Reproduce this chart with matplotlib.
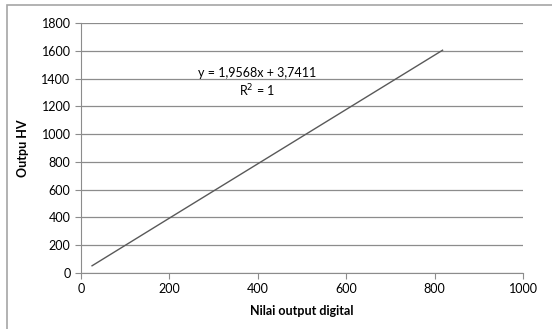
import matplotlib.pyplot as plt
from matplotlib.patches import Rectangle

plt.rcParams['font.family'] = ['Lato', 'DejaVu Sans']

# data
x_digital = [25, 204, 408, 613, 818]
y_hv = [52, 403, 802, 1203, 1604]

x_ticks = [0, 200, 400, 600, 800, 1000]
y_ticks = [0, 200, 400, 600, 800, 1000, 1200, 1400, 1600, 1800]
eq_text = "y = 1,9568x + 3,7411\nR$^2$ = 1"

fig = plt.figure(figsize=(5.52, 3.29), dpi=100)
fig.patches.append(Rectangle((7 / 552, -0.1), 1.2, 1.1 - 5 / 329,
                             transform=fig.transFigure, fill=False,
                             edgecolor='#a6a6a6', linewidth=1.2))
ax = fig.add_axes([81 / 552, 56 / 329, 442 / 552, 250 / 329])

ax.plot(x_digital, y_hv, color='#595959', linewidth=1.0)

ax.set_xlim(0, 1000)
ax.set_ylim(0, 1800)
ax.set_xticks(x_ticks)
ax.set_yticks(y_ticks)
ax.grid(axis='y', color='#8c8c8c', linewidth=0.9)
ax.set_axisbelow(True)
for s in ['top', 'right']:
    ax.spines[s].set_visible(False)
for s in ['left', 'bottom']:
    ax.spines[s].set_color('#8c8c8c')
ax.tick_params(colors='#8c8c8c', labelcolor='black', labelsize=9, length=4)

ax.set_xlabel('Nilai output digital', fontsize=9, fontweight='bold', labelpad=7)
ax.set_ylabel('Outpu HV', fontsize=9, fontweight='bold', labelpad=9)

ax.text(398, 1365, eq_text, ha='center', va='center', fontsize=9,
        linespacing=1.25)

plt.savefig('out.png', dpi=100)
